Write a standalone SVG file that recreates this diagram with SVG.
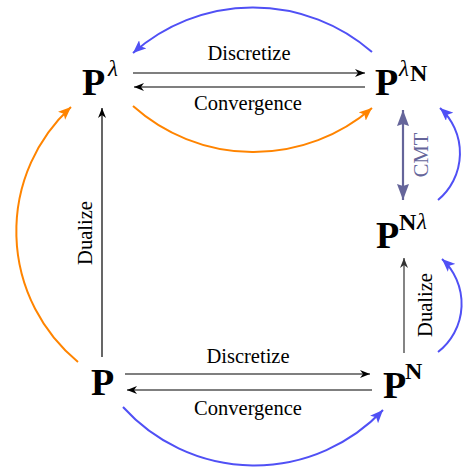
<svg xmlns="http://www.w3.org/2000/svg" width="475" height="467" viewBox="0 0 475 467">
<style>
.lbl{font-family:"Liberation Serif","Times New Roman",serif;font-size:20.5px;fill:#000}
.node{font-family:"Liberation Serif","Times New Roman",serif;font-weight:bold;fill:#000}
.big{font-size:38px}
.sup{font-size:24px}
.lam{font-style:italic;font-weight:normal;font-size:23px}
.blk{fill:none;stroke:#000;stroke-width:1.2}
.blue{fill:none;stroke:#5050f5;stroke-width:2}
.orange{fill:none;stroke:#ff8400;stroke-width:2}
.cmt{fill:none;stroke:#65659a;stroke-width:2.2}
</style>
<defs>
<marker id="ab" markerUnits="userSpaceOnUse" markerWidth="11" markerHeight="8" refX="10" refY="4" orient="auto"><path d="M0,0 L10,4 L0,8 L3,4 z" fill="#000"/></marker>
<marker id="ag" markerUnits="userSpaceOnUse" markerWidth="11" markerHeight="8" refX="10" refY="4" orient="auto"><path d="M0,0 L10,4 L0,8 L3,4 z" fill="#333"/></marker>
<marker id="abl" markerUnits="userSpaceOnUse" markerWidth="14" markerHeight="11" refX="13" refY="5.5" orient="auto"><path d="M0,0 L13,5.5 L0,11 L3,5.5 z" fill="#5050f5"/></marker>
<marker id="aor" markerUnits="userSpaceOnUse" markerWidth="14" markerHeight="11" refX="13" refY="5.5" orient="auto"><path d="M0,0 L13,5.5 L0,11 L3,5.5 z" fill="#ff8400"/></marker>
<marker id="acm" markerUnits="userSpaceOnUse" markerWidth="17" markerHeight="12" refX="16" refY="6" orient="auto-start-reverse"><path d="M0,0 L16,6 L0,12 L2,6 z" fill="#65659a"/></marker>
</defs>

<g id="connectors">
<path class="blk" d="M133,73 L365,73" marker-end="url(#ab)"/>
<path class="blk" d="M365,87 L134,87" marker-end="url(#ab)"/>
<path class="blk" d="M125,374 L370,374" marker-end="url(#ab)"/>
<path class="blk" d="M372,390 L127,390" marker-end="url(#ab)"/>
<path class="blk" d="M102,357 L102,108" marker-end="url(#ab)"/>
<path class="blk" style="stroke:#333" d="M404,353 L404,258" marker-end="url(#ag)"/>
<path class="cmt" d="M403,110 L403,200" marker-start="url(#acm)" marker-end="url(#acm)"/>
<path class="orange" d="M78,362 A169,169 0 0 1 71,107" marker-end="url(#aor)"/>
<path class="orange" d="M133,106 A181,181 0 0 0 372,108" marker-end="url(#aor)"/>
<path class="blue" d="M372,52 A181,181 0 0 0 133,53" marker-end="url(#abl)"/>
<path class="blue" d="M123,407 A177,177 0 0 0 383,410" marker-end="url(#abl)"/>
<path class="blue" d="M438,200 A61,61 0 0 0 440,108" marker-end="url(#abl)"/>
<path class="blue" d="M438,352 A61,61 0 0 0 442,259" marker-end="url(#abl)"/>
<text class="lbl" x="249" y="60" text-anchor="middle">Discretize</text>
<text class="lbl" x="248" y="110" text-anchor="middle">Convergence</text>
<text class="lbl" x="248" y="363" text-anchor="middle">Discretize</text>
<text class="lbl" x="248" y="415" text-anchor="middle">Convergence</text>
<text class="lbl" transform="translate(92,233) rotate(-90)" text-anchor="middle">Dualize</text>
<text class="lbl" transform="translate(432,305) rotate(-90)" text-anchor="middle">Dualize</text>
<text class="lbl" style="fill:#65659a" transform="translate(428,155) rotate(-90)" text-anchor="middle">CMT</text>
</g>

<g id="node-P-lambda">
<text class="node big" x="82" y="95">P<tspan class="lam" x="108" y="76">λ</tspan></text>
</g>
<g id="node-P-lambda-N">
<text class="node big" x="375" y="95">P<tspan class="lam" x="399" y="76">λ</tspan><tspan class="sup" x="410" y="81">N</tspan></text>
</g>
<g id="node-P-N-lambda">
<text class="node big" x="376" y="248">P<tspan class="sup" x="399" y="230">N</tspan><tspan class="lam" x="417" y="229">λ</tspan></text>
</g>
<g id="node-P">
<text class="node big" x="91" y="395">P</text>
</g>
<g id="node-P-N">
<text class="node big" x="383" y="398">P<tspan class="sup" x="405" y="379">N</tspan></text>
</g>
</svg>
